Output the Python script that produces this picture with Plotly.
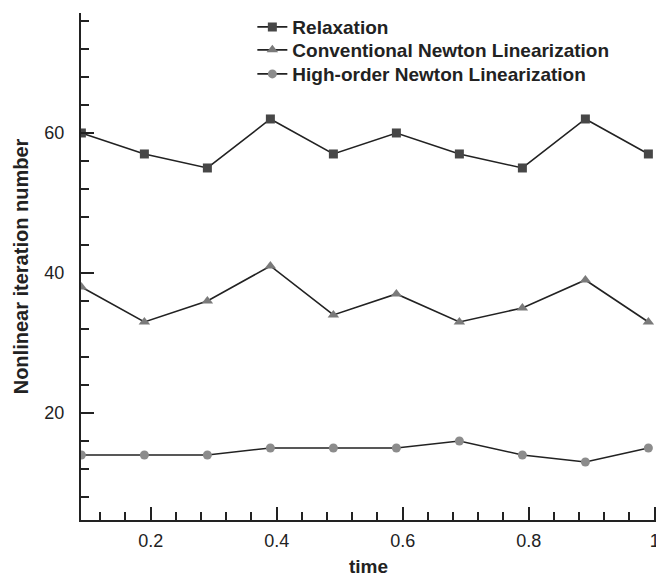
import plotly.graph_objects as go

time = [0.09, 0.19, 0.29, 0.39, 0.49, 0.59, 0.69, 0.79, 0.89, 0.99]
relaxation = [60, 57, 55, 62, 57, 60, 57, 55, 62, 57]
conventional = [38, 33, 36, 41, 34, 37, 33, 35, 39, 33]
high_order = [14, 14, 14, 15, 15, 15, 16, 14, 13, 15]

names = ["Relaxation", "Conventional Newton Linearization", "High-order Newton Linearization"]

fig = go.Figure()
fig.add_trace(go.Scatter(x=time, y=relaxation, name=names[0], mode="lines+markers",
                         legend="legend",
                         line=dict(color="#222222", width=1.6),
                         marker=dict(symbol="square", size=9, color="#474747")))
fig.add_trace(go.Scatter(x=time, y=conventional, name=names[1], mode="lines+markers",
                         legend="legend2",
                         line=dict(color="#222222", width=1.6),
                         marker=dict(symbol="triangle-up", size=10, color="#7a7a7a")))
fig.add_trace(go.Scatter(x=time, y=high_order, name=names[2], mode="lines+markers",
                         legend="legend3",
                         line=dict(color="#222222", width=1.6),
                         marker=dict(symbol="circle", size=9, color="#8c8c8c")))

font_family = "Liberation Sans, Arial, Helvetica, sans-serif"
legend_font = dict(size=19, family=font_family, color="#222222", weight="bold")


def legend_box(ytop):
    return dict(x=0.298, xanchor="left", y=ytop, yanchor="top", font=legend_font,
                bgcolor="rgba(0,0,0,0)", borderwidth=0)


fig.update_layout(
    width=656, height=577,
    margin=dict(l=81, r=0, t=13, b=57),
    paper_bgcolor="white", plot_bgcolor="white",
    font=dict(family=font_family, color="#222222", size=18),
    showlegend=True,
    legend=legend_box(1.0098),
    legend2=legend_box(0.9645),
    legend3=legend_box(0.9171),
    xaxis=dict(range=[0.0894, 1.0021], showline=True, linecolor="#222222", linewidth=2,
               showgrid=False, zeroline=False, ticks="inside", ticklen=13, tickwidth=1.5,
               tickcolor="#222222", tick0=0, dtick=0.2, tickformat="~g",
               ticklabelstandoff=3, ticklabeloverflow="allow",
               minor=dict(dtick=0.04, ticks="inside", ticklen=8, tickwidth=1.5, tickcolor="#222222"),
               title=dict(text="<b>time</b>", font=dict(size=19), standoff=11),
               automargin=False),
    yaxis=dict(range=[4.71, 77.14], showline=True, linecolor="#222222", linewidth=2,
               showgrid=False, zeroline=False, ticks="inside", ticklen=13, tickwidth=1.5,
               tickcolor="#222222", tick0=0, dtick=20,
               ticklabelstandoff=11,
               minor=dict(dtick=4, ticks="inside", ticklen=8, tickwidth=1.5, tickcolor="#222222"),
               title=dict(text="<b>Nonlinear iteration number</b>", font=dict(size=20), standoff=10),
               automargin=False),
)

fig.write_html("out.html")
